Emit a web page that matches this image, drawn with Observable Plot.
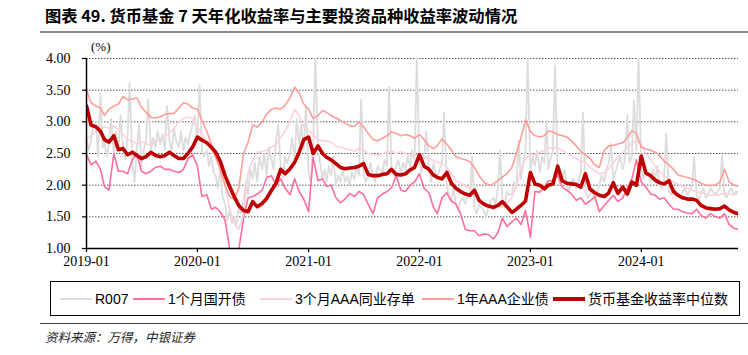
<!DOCTYPE html>
<html><head><meta charset="utf-8">
<script src="https://cdn.jsdelivr.net/npm/d3@7"></script>
<script src="https://cdn.jsdelivr.net/npm/@observablehq/plot@0.6"></script>
<style>
body{margin:0;width:748px;height:355px;position:relative;background:#fff;overflow:hidden;}
#title{position:absolute;left:45px;top:4px;font-family:"Noto Sans CJK SC",sans-serif;font-weight:700;font-size:16.3px;line-height:22px;color:#000;white-space:nowrap;}
#rule1{position:absolute;left:40px;top:31px;width:708px;height:2px;background:#8a8a8a;}
#unit{position:absolute;left:91px;top:39px;font-family:"Liberation Serif",serif;font-size:13px;line-height:16px;color:#000;}
#chart{position:absolute;left:0;top:38px;}
#legend{position:absolute;left:50px;top:281px;width:690px;height:35px;box-sizing:border-box;border:1.5px solid #000;}
.sw{position:absolute;top:299px;}
.lt{position:absolute;top:290px;font-family:"Liberation Sans","Noto Sans CJK SC",sans-serif;font-size:14px;line-height:18px;color:#000;white-space:nowrap;}
#rule2{position:absolute;left:40px;top:323px;width:708px;height:1px;background:#404040;}
#source{position:absolute;left:45px;top:328px;font-family:"Noto Sans CJK SC",sans-serif;font-style:italic;font-size:12.5px;line-height:17px;color:#222;white-space:nowrap;}
</style></head>
<body>
<div id="title">图表 49. 货币基金 7 天年化收益率与主要投资品种收益率波动情况</div>
<div id="rule1"></div>
<div id="unit">(%)</div>
<div id="chart"></div>
<div id="legend"></div>
<div id="rule2"></div>
<div id="source">资料来源：万得，中银证券</div>
<script>
// ---------- data ----------
const seriesNames = ["R007", "1个月国开债", "3个月AAA同业存单", "1年AAA企业债", "货币基金收益率中位数"];
const xTickLabels = ["2019-01", "2020-01", "2021-01", "2022-01", "2023-01", "2024-01"];
const yTickLabels = ["1.00", "1.50", "2.00", "2.50", "3.00", "3.50", "4.00"];

// R007: weekly readings (days 1, 8, 16, 23 of each month), Jan 2019 – mid Nov 2024
const r007 = [
  2.75,2.55,2.70,2.95, 3.00,2.45,3.45,2.60, 2.70,2.45,2.65,3.05, 2.50,2.85,2.55,3.10, 2.60,2.40,2.75,3.62, 2.35,2.05,2.60,2.95,
  2.30,2.55,2.70,3.35, 2.55,2.75,2.60,2.85, 2.65,2.80,2.55,3.25, 2.70,2.55,2.90,2.70, 2.60,2.85,2.55,2.75, 2.65,2.80,2.95,3.10,
  2.70,3.58,2.55,2.45, 2.55,2.30,2.45,2.20, 2.15,1.95,2.25,1.85, 1.70,1.45,1.60,1.40, 1.50,1.35,1.65,1.55, 1.75,2.05,1.85,2.25,
  2.10,2.35,2.05,2.45, 2.25,2.50,2.15,2.60, 2.40,2.25,2.70,2.95, 2.30,2.10,2.45,2.35, 2.50,2.75,2.40,3.05, 2.65,2.95,2.55,3.25,
  2.20,2.05,2.60,4.00, 2.55,2.35,2.10,2.25, 2.05,2.30,2.15,2.45, 2.00,2.15,2.05,2.25, 2.05,2.15,2.00,2.20, 2.10,2.30,2.15,3.35,
  2.20,2.05,2.15,2.35, 2.15,2.05,2.30,2.25, 2.20,2.40,2.30,3.55, 2.25,2.15,2.30,2.40, 2.20,2.35,2.25,2.45, 2.30,2.55,2.40,4.00,
  2.35,2.20,2.45,2.85, 2.25,2.05,2.35,2.20, 2.10,2.25,2.35,3.15, 2.00,1.80,1.75,1.95, 1.70,1.60,1.75,1.80, 1.70,1.85,1.80,2.45,
  1.65,1.55,1.70,1.65, 1.60,1.50,1.65,1.75, 1.80,1.70,1.95,2.55, 1.75,1.65,1.90,1.85, 1.85,2.05,1.95,2.70, 2.10,2.35,2.55,4.00,
  2.20,2.45,2.30,2.55, 2.20,2.45,2.35,3.02, 2.25,2.40,2.55,3.89, 2.15,2.00,2.10,2.25, 2.00,1.90,2.05,2.10, 1.95,2.05,2.20,3.15,
  1.90,1.80,1.85,1.95, 1.80,1.85,2.00,2.15, 2.05,2.25,2.35,2.65, 2.10,2.20,2.35,2.45, 2.25,2.40,3.10,2.35, 2.45,3.34,2.55,4.00,
  2.25,2.10,2.30,2.20, 2.05,2.25,2.10,2.30, 2.00,1.95,2.10,2.81, 1.90,1.85,1.95,1.90, 1.85,1.80,1.90,1.95, 1.85,1.90,2.00,2.44,
  1.85,1.75,1.90,1.95, 1.80,1.85,1.95,1.90, 1.85,1.90,1.95,2.47, 1.85,1.80,1.90,1.95, 1.85,1.90,1.88
];

// Semi-monthly readings (1st and 16th of each month), Jan 2019 – mid Nov 2024
const cdb1m = [
  2.48,2.32,2.38,2.25,1.98,1.92,2.50,2.22,2.22,2.18,2.40,2.50,2.22,2.18,2.22,2.28,2.30,2.25,2.25,2.22,2.20,2.25,2.42,2.48,
  2.30,1.82,1.85,1.62,1.65,1.58,1.45,1.00,0.97,0.98,1.48,1.80,1.82,1.86,1.92,2.12,2.15,2.00,2.10,1.95,1.85,2.10,1.90,1.78,
  1.58,2.44,2.07,2.10,1.98,2.00,1.80,1.72,1.78,1.87,1.82,1.90,1.85,1.70,1.55,1.80,1.86,1.90,1.96,2.15,1.92,1.90,2.00,2.05,
  2.18,1.95,1.88,1.65,1.55,1.80,1.88,1.75,1.70,1.55,1.30,1.28,1.28,1.20,1.23,1.22,1.15,1.25,1.48,1.35,1.42,1.48,1.38,1.60,
  1.18,1.90,1.89,1.97,2.07,2.07,2.16,1.97,1.92,1.86,1.76,1.80,1.70,1.75,1.82,1.58,1.68,1.76,1.84,1.74,1.80,1.95,2.10,2.40,
  2.05,1.97,1.86,1.84,1.78,1.80,1.70,1.62,1.62,1.58,1.56,1.55,1.62,1.52,1.48,1.55,1.50,1.48,1.55,1.38,1.32,1.30
];
const ncd3m = [
  2.72,2.78,2.85,2.90,2.92,2.90,2.93,2.88,2.80,2.72,2.70,2.65,2.68,2.66,2.62,2.70,2.72,2.78,2.82,2.90,3.00,3.05,3.08,3.05,
  2.92,2.80,2.68,2.55,2.42,2.25,2.00,1.62,1.40,1.30,1.55,2.20,2.40,2.52,2.53,2.56,2.60,2.65,2.75,2.86,3.00,3.20,3.10,2.92,
  2.86,2.80,2.72,2.70,2.70,2.68,2.62,2.60,2.58,2.56,2.54,2.58,2.55,2.50,2.48,2.47,2.50,2.52,2.54,2.50,2.53,2.50,2.47,2.47,
  2.50,2.45,2.42,2.39,2.36,2.35,2.28,2.18,2.07,2.04,1.98,1.95,1.90,1.80,1.68,1.64,1.62,1.64,1.67,1.72,1.80,2.00,2.25,2.42,
  2.48,2.48,2.52,2.55,2.58,2.60,2.58,2.55,2.50,2.47,2.42,2.38,2.36,2.28,2.22,2.18,2.20,2.26,2.36,2.44,2.52,2.60,2.66,2.70,
  2.64,2.50,2.40,2.30,2.22,2.15,2.10,2.05,2.02,1.98,1.95,1.92,1.90,1.88,1.86,1.84,1.84,1.85,1.88,1.86,1.85,1.87
];
const corp1y = [
  3.50,3.30,3.25,3.22,3.10,3.20,3.25,3.28,3.40,3.35,3.36,3.38,3.23,3.15,3.07,3.06,3.08,3.12,3.13,3.13,3.22,3.30,3.28,3.22,
  3.20,3.02,2.85,2.65,2.45,2.25,2.00,1.82,1.78,1.95,2.50,2.68,2.95,2.92,3.00,3.12,3.20,3.22,3.20,3.26,3.38,3.55,3.45,3.28,
  3.20,3.05,3.10,3.18,3.15,3.10,3.06,3.02,2.98,2.94,2.93,3.00,2.92,2.82,2.72,2.70,2.74,2.78,2.84,2.82,2.78,2.80,2.78,2.74,
  2.80,2.72,2.62,2.58,2.62,2.73,2.65,2.55,2.45,2.42,2.40,2.37,2.28,2.15,2.05,2.00,2.02,2.07,2.13,2.18,2.28,2.50,2.75,3.03,
  2.85,2.78,2.76,2.78,2.86,2.84,2.80,2.78,2.76,2.70,2.62,2.53,2.48,2.42,2.32,2.28,2.55,2.62,2.63,2.65,2.67,2.75,2.86,2.82,
  2.60,2.57,2.55,2.52,2.47,2.38,2.32,2.25,2.16,2.14,2.12,2.10,2.07,2.03,2.00,1.99,2.00,2.05,2.25,2.05,2.00,1.98
];
const mmfMedian = [
  3.25,2.95,2.92,2.85,2.72,2.68,2.78,2.56,2.58,2.48,2.52,2.47,2.42,2.45,2.52,2.47,2.45,2.47,2.52,2.47,2.42,2.42,2.50,2.60,
  2.76,2.71,2.67,2.60,2.52,2.38,2.15,1.98,1.82,1.68,1.60,1.58,1.74,1.66,1.71,1.79,1.92,2.03,2.25,2.18,2.26,2.36,2.52,2.72,
  2.76,2.50,2.62,2.50,2.44,2.40,2.34,2.28,2.26,2.27,2.28,2.30,2.34,2.17,2.15,2.15,2.17,2.18,2.25,2.17,2.16,2.18,2.24,2.28,
  2.48,2.30,2.25,2.16,2.12,2.10,2.20,2.03,1.95,1.90,1.86,1.84,1.92,1.76,1.70,1.67,1.65,1.68,1.74,1.66,1.57,1.62,1.68,1.75,
  2.20,2.02,2.00,1.94,2.00,2.02,2.30,2.07,2.03,2.02,2.01,1.97,2.18,1.94,1.88,1.84,1.82,1.88,2.04,1.87,1.97,1.86,2.05,2.00,
  2.46,2.19,2.15,2.08,2.04,2.02,2.07,1.90,1.84,1.80,1.78,1.78,1.76,1.68,1.64,1.63,1.62,1.63,1.67,1.61,1.57,1.55
];

// ---------- styles / layout ----------
const colors = ["#dcdcdc", "#ff6f9c", "#fcd3da", "#ff9e99", "#c00000"];
const widths = [1.8, 1.6, 1.6, 1.6, 3.6];
const legendSwatchX = [60, 133, 260, 422, 553];

// ---------- dates ----------
const t0 = new Date(Date.UTC(2019, 0, 1));
const t1 = new Date(Date.UTC(2024, 10, 16));
const months = d3.utcMonth.range(t0, new Date(Date.UTC(2024, 11, 1)));
const semiDates = months.flatMap(m => [m, d3.utcDay.offset(m, 15)]);
const weekDates = months.flatMap(m => [0, 7, 15, 22].map(k => d3.utcDay.offset(m, k)));

const weekly = (vals) => vals.map((v, i) => ({date: weekDates[i], v}));
const semi = (vals) => vals.map((v, i) => ({date: semiDates[i], v}));
const seriesData = [weekly(r007), semi(cdb1m), semi(ncd3m), semi(corp1y), semi(mmfMedian)];

const xTicks = xTickLabels.map(s => d3.utcParse("%Y-%m")(s));
const yTicks = yTickLabels.map(Number);

const chart = Plot.plot({
  width: 748, height: 240,
  marginTop: 20, marginBottom: 30, marginLeft: 86, marginRight: 10,
  style: {fontFamily: '"Liberation Serif", serif', fontSize: "14px", color: "#000", background: "transparent", overflow: "visible"},
  x: {type: "utc", domain: [t0, t1]},
  y: {domain: [1, 4]},
  marks: [
    Plot.ruleY(yTicks.filter(d => d > 1), {stroke: "#555", strokeWidth: 1, strokeDasharray: "1.5,1.5"}),
    ...seriesData.map((d, i) => Plot.line(d, {x: "date", y: "v", stroke: colors[i], strokeWidth: widths[i], clip: true, strokeLinejoin: "round"})),
    Plot.ruleX([t0], {stroke: "#000", strokeWidth: 1.5}),
    Plot.ruleY([1], {stroke: "#000", strokeWidth: 1.5}),
    Plot.axisX({ticks: xTicks, tickFormat: (d, i) => xTickLabels[i], tickSize: 4, tickPadding: 4, label: null, stroke: "#000", strokeWidth: 1.2}),
    Plot.axisY({ticks: yTicks, tickFormat: (d, i) => yTickLabels[i], tickSize: 4, tickPadding: 12, label: null, stroke: "#000", strokeWidth: 1.2})
  ]
});
document.getElementById("chart").appendChild(chart);

// legend
const body = document.body;
seriesNames.forEach((name, i) => {
  const sw = document.createElement("div");
  sw.className = "sw";
  sw.style.left = legendSwatchX[i] + "px";
  sw.style.width = "32px";
  sw.style.height = (i === 4 ? 4 : 2.5) + "px";
  sw.style.marginTop = (i === 4 ? -2 : -1.25) + "px";
  sw.style.background = colors[i];
  body.appendChild(sw);
  const lt = document.createElement("div");
  lt.className = "lt";
  lt.style.left = (legendSwatchX[i] + 35) + "px";
  lt.textContent = name;
  body.appendChild(lt);
});
</script>
</body></html>
